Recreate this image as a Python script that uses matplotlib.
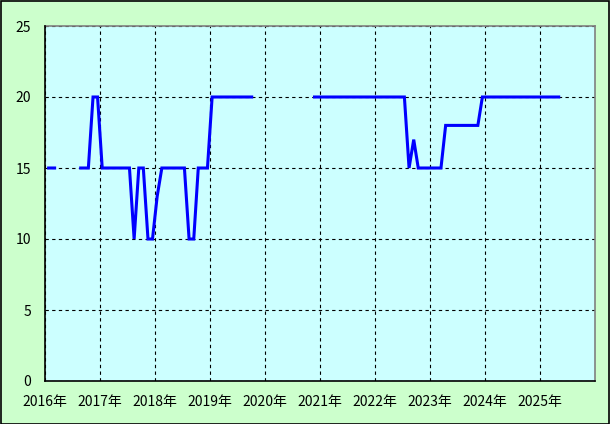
import numpy as np
import pandas as pd
import matplotlib
matplotlib.use('Agg')
import matplotlib.pyplot as plt
from matplotlib.patches import Rectangle

plt.rcParams['font.family'] = ['Noto Sans CJK JP', 'DejaVu Sans']

nan = np.nan

# 月次データ (2016年1月 ～ 2025年5月)
v2016 = [15, 15, 15, nan, nan, nan, nan, 15, 15, 15, 20, 20]
v2017 = [15, 15, 15, 15, 15, 15, 15, 10, 15, 15, 10, 10]
v2018 = [13, 15, 15, 15, 15, 15, 15, 10, 10, 15, 15, 15]
v2019 = [20, 20, 20, 20, 20, 20, 20, 20, 20, 20, nan, nan]
v2020 = [nan, nan, nan, nan, nan, nan, nan, nan, nan, nan, 20, 20]
v2021 = [20] * 12
v2022 = [20, 20, 20, 20, 20, 20, 20, 15, 17, 15, 15, 15]
v2023 = [15, 15, 15, 18, 18, 18, 18, 18, 18, 18, 18, 20]
v2024 = [20] * 12
v2025 = [20, 20, 20, 20, 20]

values = np.array(v2016 + v2017 + v2018 + v2019 + v2020 +
                  v2021 + v2022 + v2023 + v2024 + v2025, dtype=float)
dates = pd.date_range('2016-01-01', periods=len(values), freq='MS') + pd.Timedelta(days=14)

years = list(range(2016, 2026))
year_labels = [f'{y}年' for y in years]
y_ticks = [0, 5, 10, 15, 20, 25]

W, H = 610, 424
fig = plt.figure(figsize=(W / 100, H / 100), dpi=100, facecolor='#CCFFCC')
ax = fig.add_axes([45 / W, (H - 381) / H, 550 / W, 355 / H])
ax.set_facecolor('#CCFFFF')
ax.set_axisbelow(True)

ax.plot(dates, values, color='#0000FF', linewidth=2.2, solid_capstyle='butt',
        solid_joinstyle='miter', zorder=3)

ax.set_xlim(pd.Timestamp('2016-01-01'), pd.Timestamp('2026-01-01'))
ax.set_ylim(0, 25)
ax.set_xticks([pd.Timestamp(f'{y}-01-01') for y in years])
ax.set_xticklabels(year_labels)
ax.set_yticks(y_ticks)

ax.grid(True, color='black', linestyle=(0, (3, 3)), linewidth=0.8)
ax.tick_params(axis='both', length=0, labelsize=10, colors='black')
ax.tick_params(axis='y', pad=10)
ax.tick_params(axis='x', pad=10)

for side in ['left', 'bottom']:
    ax.spines[side].set_color('black')
    ax.spines[side].set_linewidth(1.2)
    ax.spines[side].set_zorder(4)
for side in ['top', 'right']:
    ax.spines[side].set_color('#808080')
    ax.spines[side].set_linewidth(1.2)

# 外枠
fig.patches.append(Rectangle((0.5 / W, 0.5 / H), 1 - 1.5 / W, 1 - 1.5 / H,
                             transform=fig.transFigure, fill=False,
                             edgecolor='black', linewidth=1.2))

plt.savefig('out.png', dpi=100, facecolor='#CCFFCC')
plt.close()
